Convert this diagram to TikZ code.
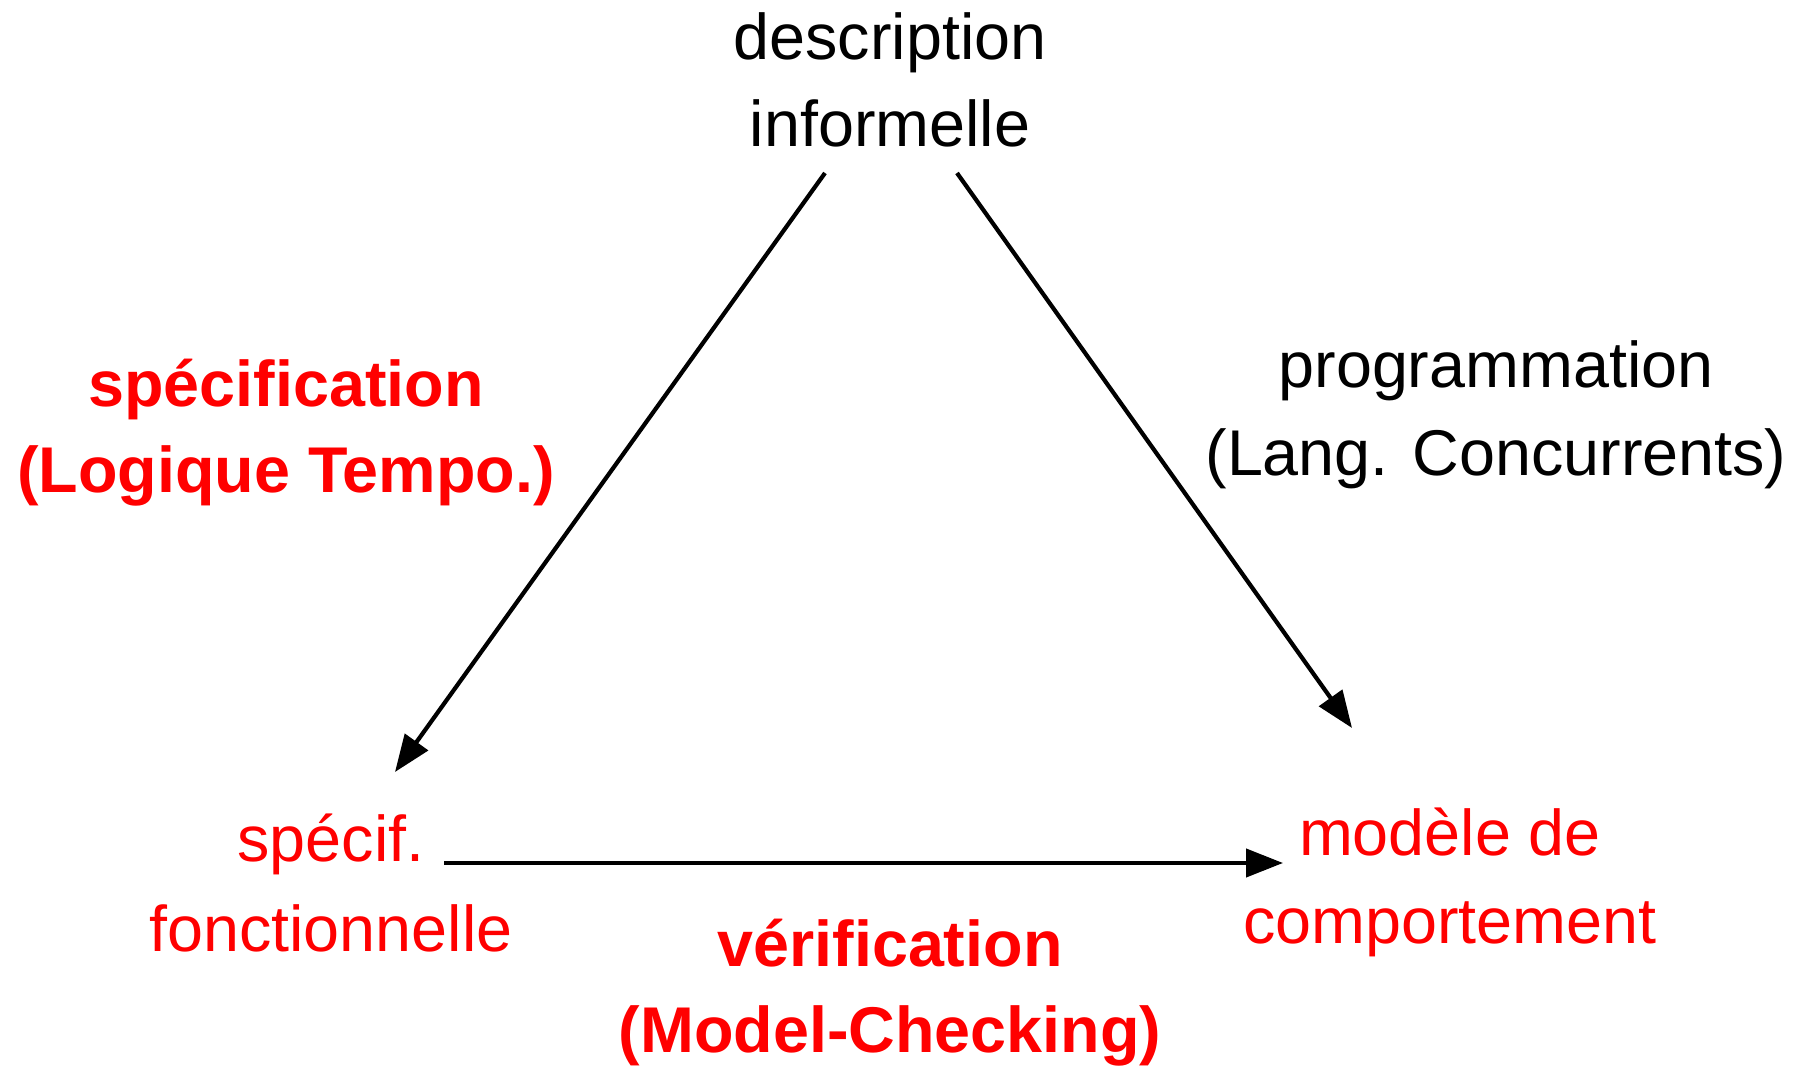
\documentclass[tikz,border=0pt]{standalone}
\usepackage{fontspec}
\setmainfont{Liberation Sans}
\usetikzlibrary{arrows.meta}
\definecolor{labred}{RGB}{255,0,0}
\tikzset{
  txt/.style={anchor=base,inner sep=0pt,font=\fontsize{18.4}{22}\selectfont},
  redtxt/.style={txt,text=labred},
  boldtxt/.style={redtxt,font=\fontsize{18.4}{22}\selectfont\bfseries},
  link/.style={draw=black,line width=1.2pt,-{Triangle[length=3.7mm,width=2.8mm]}}
}
\begin{document}
\begin{tikzpicture}[y=-1cm]
\useasboundingbox (0,0) rectangle (18.07,10.66);

% labels:
\path (8.90,0.60) node[txt,text=black] (desc1) {description};
\path (8.90,1.47) node[txt,text=black] (desc2) {informelle};
\path (2.86,4.07) node[boldtxt] (spec1) {spécification};
\path (2.86,4.93) node[boldtxt] (spec2) {(Logique Tempo.)};
\path (14.96,3.88) node[txt,text=black] (prog1) {programmation};
\path (14.96,4.76) node[txt,text=black] (prog2) {(Lang. Concurrents)};
\path (3.31,8.62) node[redtxt] (fonc1) {spécif.};
\path (3.31,9.51) node[redtxt] (fonc2) {fonctionnelle};
\path (14.50,8.55) node[redtxt] (mod1) {modèle de};
\path (14.50,9.43) node[redtxt] (mod2) {comportement};
\path (8.90,9.66) node[boldtxt] (verif1) {vérification};
\path (8.90,10.52) node[boldtxt] (verif2) {(Model-Checking)};

% arrow ends:
\coordinate (descL) at (8.25,1.73);
\coordinate (descR) at (9.57,1.73);
\coordinate (foncTip) at (3.95,7.72);
\coordinate (foncOut) at (4.44,8.63);
\coordinate (modTip) at (13.52,7.28);
\coordinate (modIn) at (12.83,8.63);

\draw[link] (descL) -- (foncTip);
\draw[link] (descR) -- (modTip);
\draw[link] (foncOut) -- (modIn);

\end{tikzpicture}
\end{document}
